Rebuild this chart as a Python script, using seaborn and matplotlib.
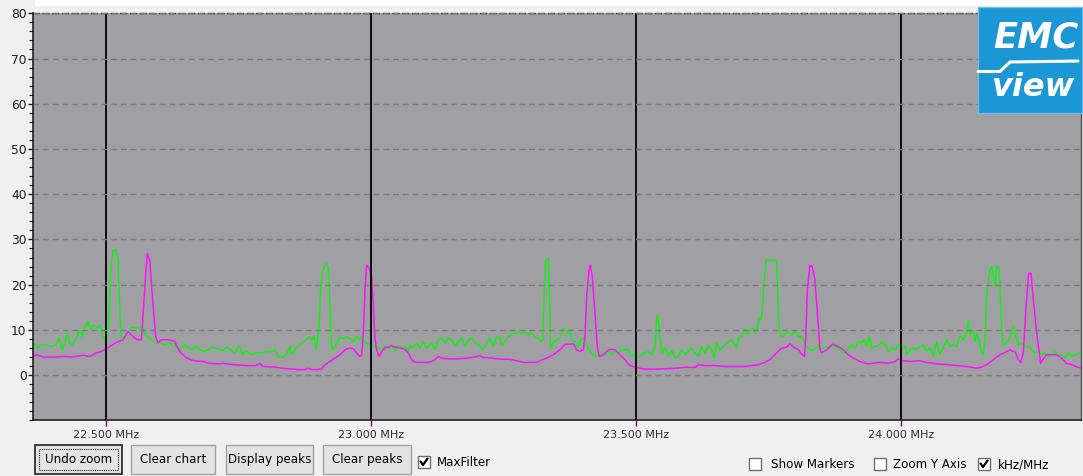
import numpy as np
import pandas as pd
import matplotlib
matplotlib.use("Agg")
import matplotlib.pyplot as plt
import seaborn as sns
from matplotlib.patches import Rectangle
from matplotlib.lines import Line2D

# ---------------- data ----------------
green_freq = [
    22.3623, 22.3717, 22.3780, 22.3875, 22.3969, 22.4063, 22.4114, 22.4176, 22.4239, 22.4271,
    22.4315, 22.4365, 22.4428, 22.4504, 22.4554, 22.4598, 22.4661, 22.4705, 22.4755, 22.4849,
    22.4881, 22.4912, 22.4944, 22.4994, 22.5019, 22.5057, 22.5088, 22.5132, 22.5195, 22.5227,
    22.5258, 22.5290, 22.5352, 22.5415, 22.5478, 22.5573, 22.5636, 22.5686, 22.5730, 22.5793,
    22.5856, 22.5919, 22.6013, 22.6107, 22.6202, 22.6265, 22.6327, 22.6390, 22.6485, 22.6547,
    22.6642, 22.6705, 22.6768, 22.6862, 22.6925, 22.7019, 22.7114, 22.7208, 22.7271, 22.7365,
    22.7428, 22.7510, 22.7585, 22.7648, 22.7743, 22.7837, 22.7931, 22.8025, 22.8120, 22.8183,
    22.8246, 22.8308, 22.8403, 22.8466, 22.8497, 22.8592, 22.8655,
    22.8817, 22.8849, 22.8880, 22.8924, 22.8962, 22.8987, 22.9018, 22.9050, 22.9088, 22.9151,
    22.9195, 22.9226, 22.9258, 22.9289, 22.9339, 22.9383, 22.9415, 22.9478, 22.9541, 22.9603,
    22.9666, 22.9729, 22.9792, 22.9824, 22.9855, 22.9887, 22.9918, 22.9981, 23.0044, 23.0107,
    23.0170, 23.0264, 23.0327, 23.0390, 23.0453, 23.0516, 23.0578, 23.0673, 23.0704, 23.0736,
    23.0799, 23.0862, 23.0924, 23.0987, 23.1050, 23.1145, 23.1208, 23.1270, 23.1333, 23.1396,
    23.1459, 23.1522, 23.1585, 23.1648, 23.1711, 23.1774, 23.1836, 23.1899, 23.1962, 23.2025,
    23.2107, 23.2182, 23.2245, 23.2308, 23.2371, 23.2434, 23.2465, 23.2528, 23.2591, 23.2654,
    23.2717, 23.2780, 23.2843, 23.2906, 23.2968, 23.3031, 23.3094, 23.3157, 23.3201, 23.3239,
    23.3264, 23.3295, 23.3346, 23.3364, 23.3390, 23.3440, 23.3503, 23.3566, 23.3629,
    23.3723, 23.3754, 23.3786, 23.3849, 23.3912, 23.3962, 23.4006, 23.4037, 23.4069, 23.4132,
    23.4226, 23.4289, 23.4352, 23.4415, 23.4478, 23.4541, 23.4603, 23.4666, 23.4729, 23.4792,
    23.4855, 23.4887, 23.4918, 23.4981, 23.5044, 23.5107, 23.5170, 23.5233, 23.5296, 23.5358,
    23.5396, 23.5421, 23.5453, 23.5497, 23.5547, 23.5610, 23.5673, 23.5736, 23.5799, 23.5862,
    23.5924, 23.5987, 23.6050, 23.6113, 23.6176, 23.6239, 23.6302, 23.6364, 23.6427, 23.6471,
    23.6522, 23.6585, 23.6648, 23.6711, 23.6742, 23.6805, 23.6868, 23.6899, 23.6931, 23.6994,
    23.7057, 23.7107, 23.7151, 23.7214, 23.7258, 23.7296, 23.7321, 23.7358, 23.7384, 23.7421,
    23.7453, 23.7560, 23.7654, 23.7673, 23.7698, 23.7749, 23.7811, 23.7874, 23.7937, 23.8000,
    23.8063, 23.8126, 23.8157, 23.8220, 23.8283, 23.8346, 23.8409, 23.8440, 23.8472, 23.8535,
    23.8597, 23.8660,
    23.8710, 23.8754, 23.8817, 23.8880, 23.8943, 23.9006, 23.9069, 23.9132, 23.9195, 23.9258,
    23.9302, 23.9352, 23.9402, 23.9446, 23.9509, 23.9572, 23.9635, 23.9698, 23.9761, 23.9824,
    23.9887, 23.9950, 24.0013, 24.0075, 24.0119, 24.0170, 24.0233, 24.0296, 24.0358, 24.0421,
    24.0484, 24.0547, 24.0610, 24.0673, 24.0736, 24.0799, 24.0862, 24.0924, 24.0987, 24.1050,
    24.1113, 24.1176, 24.1239, 24.1270, 24.1302, 24.1364, 24.1396, 24.1427, 24.1471, 24.1522,
    24.1553, 24.1585, 24.1616, 24.1667, 24.1711, 24.1742, 24.1774, 24.1805, 24.1836, 24.1868,
    24.1899, 24.1931, 24.1994, 24.2057, 24.2119, 24.2170, 24.2214, 24.2277, 24.2340, 24.2403,
    24.2465, 24.2528, 24.2591, 24.2654, 24.2717, 24.2780, 24.2843, 24.2906, 24.2969, 24.3031,
    24.3094, 24.3157, 24.3220, 24.3283, 24.3346, 24.3409,
]
green_level = [
    7.1, 6.0, 6.7, 6.7, 6.3, 6.7, 8.2, 5.6, 7.8, 9.3,
    7.1, 6.7, 7.8, 10.0, 8.5, 10.4, 11.8, 10.0, 11.1, 10.4,
    11.1, 10.4, 8.2, 8.2, 9.3, 12.2, 22.5, 27.6, 27.6, 25.4,
    15.1, 7.8, 8.5, 9.6, 10.6, 10.4, 10.4, 11.1, 8.9, 8.5,
    7.8, 7.1, 7.1, 6.7, 7.1, 6.5, 6.3, 5.6, 6.7, 6.0,
    5.6, 6.5, 5.6, 5.2, 5.6, 6.2, 5.7, 5.4, 6.2, 5.6,
    4.9, 6.5, 4.5, 5.4, 4.5, 5.0, 4.9, 5.2, 5.2, 5.6,
    4.1, 3.8, 4.5, 6.3, 4.5, 6.0, 6.7,
    8.2, 8.5, 7.8, 8.5, 5.6, 7.1, 10.7, 18.8, 23.2, 24.7,
    23.8, 15.1, 6.3, 5.6, 6.7, 7.8, 8.5, 8.1, 8.5, 8.1,
    7.4, 8.5, 7.8, 8.5, 7.8, 7.1, 7.1, 6.7, 6.5, 6.0,
    5.6, 6.3, 6.0, 6.7, 5.2, 6.5, 6.3, 6.0, 5.2, 6.5,
    6.0, 7.1, 6.0, 7.4, 6.0, 7.1, 5.6, 7.8, 8.2, 7.1,
    8.2, 7.8, 6.3, 7.4, 8.2, 6.3, 7.8, 8.2, 7.1, 6.7,
    5.6, 7.1, 8.2, 6.3, 8.5, 8.2, 6.7, 7.4, 8.5, 8.9,
    9.3, 9.6, 9.3, 9.3, 8.9, 9.3, 8.5, 8.1, 7.4, 7.8,
    16.6, 25.4, 25.8, 18.8, 6.0, 7.1, 7.8, 8.2, 10.4,
    9.3, 10.0, 7.8, 7.4, 6.0, 7.8, 8.2, 7.8, 6.7, 5.2,
    4.1, 4.5, 4.9, 4.5, 5.6, 4.5, 5.2, 4.9, 5.7, 5.6,
    5.7, 4.5, 4.1, 4.5, 4.1, 4.5, 4.9, 5.2, 4.5, 6.3,
    13.3, 11.9, 7.8, 4.9, 6.0, 4.1, 5.6, 3.75, 4.1, 5.6,
    4.5, 5.2, 6.0, 4.9, 4.1, 6.3, 4.9, 6.7, 5.6, 3.75,
    7.1, 5.6, 6.3, 7.1, 7.4, 7.8, 6.7, 6.0, 8.2, 8.5,
    10.1, 8.9, 10.0, 10.4, 9.3, 10.7, 12.6, 12.2, 15.1, 21.0,
    25.4, 25.4, 25.4, 18.8, 10.0, 8.5, 8.9, 9.6, 8.9, 9.6,
    8.5, 8.5, 7.8, 6.3, 5.6, 5.6, 6.0, 6.7, 5.6, 6.0,
    6.3, 6.0,
    6.7, 6.3, 6.0, 5.2, 4.9, 6.0, 6.7, 6.0, 7.4, 7.1,
    7.8, 6.3, 8.5, 6.0, 6.3, 6.5, 7.4, 6.7, 5.2, 6.0,
    5.6, 6.7, 6.0, 6.3, 4.5, 5.6, 6.0, 5.6, 6.3, 6.7,
    5.2, 6.0, 4.1, 7.4, 4.5, 6.3, 7.8, 6.3, 6.7, 6.3,
    8.9, 7.8, 9.6, 12.2, 8.9, 9.6, 7.4, 9.3, 7.8, 4.9,
    4.5, 7.8, 18.1, 22.5, 24.0, 22.5, 19.6, 24.0, 24.0, 20.3,
    9.3, 6.7, 7.1, 8.5, 10.6, 8.2, 6.7, 7.1, 6.3, 6.3,
    5.6, 4.9, 5.2, 4.5, 4.9, 4.1, 4.5, 5.2, 4.1, 4.5,
    3.75, 4.9, 4.1, 4.5, 4.9, 4.7,
]

magenta_freq = [
    22.3623, 22.3686, 22.3812, 22.4000, 22.4189, 22.4378, 22.4566, 22.4692, 22.4818, 22.4912,
    22.4975, 22.5070, 22.5195, 22.5321, 22.5415, 22.5478, 22.5573, 22.5667, 22.5699, 22.5749,
    22.5780, 22.5825, 22.5875, 22.5938, 22.5982, 22.6044, 22.6202, 22.6296, 22.6390, 22.6516,
    22.6642, 22.6831, 22.6956, 22.7145, 22.7208, 22.7397, 22.7648, 22.7837, 22.7900, 22.7963,
    22.8152, 22.8340, 22.8529, 22.8655,
    22.8754, 22.8817, 22.8880, 22.8974, 22.9069, 22.9132, 22.9226, 22.9320, 22.9415, 22.9509,
    22.9603, 22.9666, 22.9729, 22.9792, 22.9824, 22.9855, 22.9887, 22.9918, 22.9950, 22.9981,
    23.0013, 23.0044, 23.0075, 23.0107, 23.0151, 23.0201, 23.0264, 23.0327, 23.0390, 23.0453,
    23.0547, 23.0641, 23.0704, 23.0767, 23.0830, 23.0924, 23.1050, 23.1145, 23.1208, 23.1270,
    23.1333, 23.1428, 23.1616, 23.1805, 23.1931, 23.2057, 23.2119, 23.2277, 23.2434, 23.2623,
    23.2811, 23.2874, 23.3000, 23.3126, 23.3189, 23.3314, 23.3440, 23.3566, 23.3660,
    23.3817, 23.3880, 23.3943, 23.4006, 23.4037, 23.4069, 23.4113, 23.4138, 23.4176, 23.4226,
    23.4270, 23.4308, 23.4383, 23.4446, 23.4509, 23.4603, 23.4698, 23.4792, 23.4887, 23.4981,
    23.5107, 23.5296, 23.5547, 23.5736, 23.5924, 23.6113, 23.6176, 23.6302, 23.6490, 23.6679,
    23.6868, 23.7057, 23.7182, 23.7308, 23.7434, 23.7528, 23.7591, 23.7654, 23.7748, 23.7843,
    23.7906, 23.7969, 23.8063, 23.8138, 23.8176, 23.8201, 23.8233, 23.8283, 23.8327, 23.8377,
    23.8428, 23.8472, 23.8503, 23.8597, 23.8692,
    23.8723, 23.8817, 23.8912, 23.9006, 23.9100, 23.9226, 23.9352, 23.9478, 23.9603, 23.9761,
    23.9887, 23.9950, 24.0013, 24.0170, 24.0327, 24.0484, 24.0673, 24.0862, 24.1050, 24.1239,
    24.1428, 24.1522, 24.1616, 24.1742, 24.1868, 24.1962, 24.2057, 24.2107, 24.2151, 24.2214,
    24.2258, 24.2308, 24.2358, 24.2409, 24.2453, 24.2497, 24.2560, 24.2635, 24.2673, 24.2748,
    24.2843, 24.2937, 24.3031, 24.3126, 24.3220, 24.3314, 24.3409,
]
magenta_level = [
    4.1, 4.5, 4.0, 4.0, 4.1, 4.0, 4.4, 4.1, 4.9, 5.2,
    5.6, 6.3, 7.2, 7.8, 9.6, 8.9, 7.9, 7.8, 12.9, 22.5,
    26.9, 25.4, 17.4, 8.5, 7.1, 7.8, 7.8, 7.4, 5.2, 3.8,
    3.2, 3.0, 2.6, 2.5, 2.6, 2.3, 2.1, 2.1, 2.6, 1.9,
    1.8, 1.5, 1.3, 1.2,
    1.2, 1.5, 1.2, 1.2, 1.4, 2.3, 3.0, 3.75, 4.5, 5.6,
    6.0, 5.8, 4.9, 4.1, 4.5, 9.3, 18.8, 24.3, 23.9, 23.2,
    21.8, 15.1, 7.8, 5.6, 4.1, 5.2, 6.0, 6.2, 6.5, 6.2,
    6.0, 5.7, 4.9, 3.4, 2.8, 2.8, 2.8, 3.0, 3.4, 4.1,
    3.75, 3.6, 3.6, 3.75, 3.9, 4.3, 3.9, 3.75, 3.5, 3.5,
    3.0, 2.8, 2.8, 2.8, 3.2, 3.75, 4.5, 5.6, 6.8,
    6.9, 5.6, 5.2, 5.6, 8.5, 17.4, 23.2, 24.3, 21.8, 13.7,
    6.3, 4.1, 4.5, 5.2, 5.7, 5.6, 4.5, 3.4, 2.1, 1.8,
    1.4, 1.3, 1.4, 1.5, 1.7, 1.7, 2.3, 2.1, 2.1, 1.9,
    1.9, 1.9, 2.1, 2.3, 2.8, 3.4, 4.1, 4.9, 6.0, 6.2,
    6.9, 6.2, 5.6, 4.5, 4.1, 7.8, 18.8, 24.3, 23.9, 21.0,
    12.9, 5.6, 4.9, 5.6, 6.7,
    6.8, 6.3, 5.6, 4.5, 3.75, 3.0, 2.5, 2.6, 2.8, 2.6,
    3.0, 3.6, 3.2, 3.0, 3.2, 2.8, 2.5, 2.3, 2.1, 1.9,
    1.5, 1.8, 2.3, 3.4, 4.5, 5.0, 5.6, 5.2, 5.2, 3.4,
    2.8, 4.9, 15.1, 22.5, 22.5, 16.6, 9.3, 2.6, 3.4, 4.5,
    4.5, 4.5, 3.75, 2.6, 2.3, 1.8, 1.5,
]

x_ticks = [22.5, 23.0, 23.5, 24.0]
x_tick_labels = ["22.500 MHz", "23.000 MHz", "23.500 MHz", "24.000 MHz"]
y_ticks = [0, 10, 20, 30, 40, 50, 60, 70, 80]
button_labels = ["Undo zoom", "Clear chart", "Display peaks", "Clear peaks"]
checkbox_labels = ["MaxFilter", "Show Markers", "Zoom Y Axis", "kHz/MHz"]
checkbox_states = [True, False, False, True]

# ---------------- figure ----------------
sns.set_style("white")
plt.rcParams["font.family"] = ["DejaVu Sans"]

W, H = 1083, 476
fig = plt.figure(figsize=(W / 100, H / 100), dpi=100, facecolor="#f0f0f0")


def fx(px):
    return px / W


def fy(py):
    return 1 - py / H


ax_top, ax_bot = 13.3, 420.3
ax = fig.add_axes([fx(33), fy(ax_bot), (1081 - 33) / W, (ax_bot - ax_top) / H])
ax.set_facecolor("#a0a0a4")

df_g = pd.DataFrame({"freq": green_freq, "level": green_level})
df_m = pd.DataFrame({"freq": magenta_freq, "level": magenta_level})
sns.lineplot(data=df_g, x="freq", y="level", ax=ax, color="#14f014",
             linewidth=1.1, estimator=None, sort=False, legend=False)
sns.lineplot(data=df_m, x="freq", y="level", ax=ax, color="#ff10ff",
             linewidth=1.1, estimator=None, sort=False, legend=False)

ax.set_xlim(22.3623, 24.3396)
ax.set_ylim(-10, 80)
ax.set_xticks(x_ticks)
ax.set_xticklabels(x_tick_labels)
ax.set_yticks(y_ticks)
ax.set_yticks(np.arange(-10, 81, 2), minor=True)
ax.set_xlabel("")
ax.set_ylabel("")

ax.grid(False)
ax.xaxis.grid(True, which="major", color="black", linewidth=1.3, linestyle="-")
ax.yaxis.grid(True, which="major", color="#7a7a7a", linewidth=1.0, linestyle=(0, (4, 3)))
ax.set_axisbelow(False)

ax.tick_params(axis="y", which="major", direction="out", length=3.6, width=1,
               color="#202020", labelsize=8.8, pad=1.0, labelcolor="#202020", left=True)
ax.tick_params(axis="y", which="minor", direction="out", length=3.0, width=0.8,
               color="#202020", left=True)
ax.tick_params(axis="x", which="major", direction="out", length=4, width=1,
               color="#800080", labelsize=8, pad=3, labelcolor="#303030", bottom=True)
ax.tick_params(axis="x", which="minor", length=0)

for s in ["left", "bottom"]:
    ax.spines[s].set_color("#202020")
    ax.spines[s].set_linewidth(1.2)
ax.spines["right"].set_color("#505050")
ax.spines["right"].set_linewidth(1.0)
ax.spines["top"].set_color("#202020")
ax.spines["top"].set_linewidth(1.0)
ax.spines["top"].set_linestyle((0, (4, 3)))

# white strip at the top of the window
fig.patches.append(Rectangle((fx(35), fy(6)), (W - 35) / W, 6 / H, transform=fig.transFigure,
                             facecolor="white", edgecolor="none", zorder=5))

# ---------------- logo ----------------
fig.patches.append(Rectangle((fx(978), fy(113)), (1082 - 978) / W, (113 - 7) / H,
                             transform=fig.transFigure, facecolor="#1c97d5",
                             edgecolor="#6cc0ea", linewidth=0.8, zorder=10))
fig.text(fx(1036), fy(37), "EMC", fontsize=25.5, fontweight="bold", style="italic",
         color="white", ha="center", va="center", zorder=11)
fig.lines.append(Line2D([fx(978), fx(1000), fx(1010), fx(1078)],
                        [fy(71.5), fy(71.5), fy(62), fy(61)],
                        transform=fig.transFigure, color="white", linewidth=2.2, zorder=11))
fig.text(fx(1034), fy(88), "view", fontsize=23, fontweight="bold", style="italic",
         color="white", ha="center", va="center", zorder=11)

# ---------------- buttons ----------------
btn_pos = [(35, 122), (131, 215), (226, 313), (323, 411)]
for i, (label, (x0, x1)) in enumerate(zip(button_labels, btn_pos)):
    edge = "#303030" if i == 0 else "#a0a0a0"
    lw = 1.3 if i == 0 else 1.0
    fig.patches.append(Rectangle((fx(x0), fy(474)), (x1 - x0) / W, 29 / H,
                                 transform=fig.transFigure, facecolor="#e3e3e3",
                                 edgecolor=edge, linewidth=lw, zorder=5))
    if i == 0:
        fig.patches.append(Rectangle((fx(x0 + 4), fy(470)), (x1 - x0 - 8) / W, 21 / H,
                                     transform=fig.transFigure, facecolor="none",
                                     edgecolor="#202020", linewidth=0.8,
                                     linestyle=(0, (1, 1)), zorder=6))
    fig.text(fx((x0 + x1) / 2), fy(459.5), label, fontsize=8.6, color="black",
             ha="center", va="center", zorder=7)

# ---------------- checkboxes ----------------
cb_pos = [(418, 456, 437), (749, 458, 771), (874, 458, 893), (978, 458, 998)]
for label, state, (bx, by, tx) in zip(checkbox_labels, checkbox_states, cb_pos):
    fig.patches.append(Rectangle((fx(bx), fy(by + 12)), 12 / W, 12 / H,
                                 transform=fig.transFigure, facecolor="white",
                                 edgecolor="#707070", linewidth=1.0, zorder=5))
    if state:
        fig.lines.append(Line2D([fx(bx + 2.5), fx(bx + 5), fx(bx + 9.5)],
                                [fy(by + 5.5), fy(by + 9), fy(by + 2.5)],
                                transform=fig.transFigure, color="black",
                                linewidth=1.6, zorder=6))
    fig.text(fx(tx), fy(by + 6.5), label, fontsize=8.6, color="black",
             ha="left", va="center", zorder=7)

fig.savefig("out.png", dpi=100, facecolor=fig.get_facecolor())
